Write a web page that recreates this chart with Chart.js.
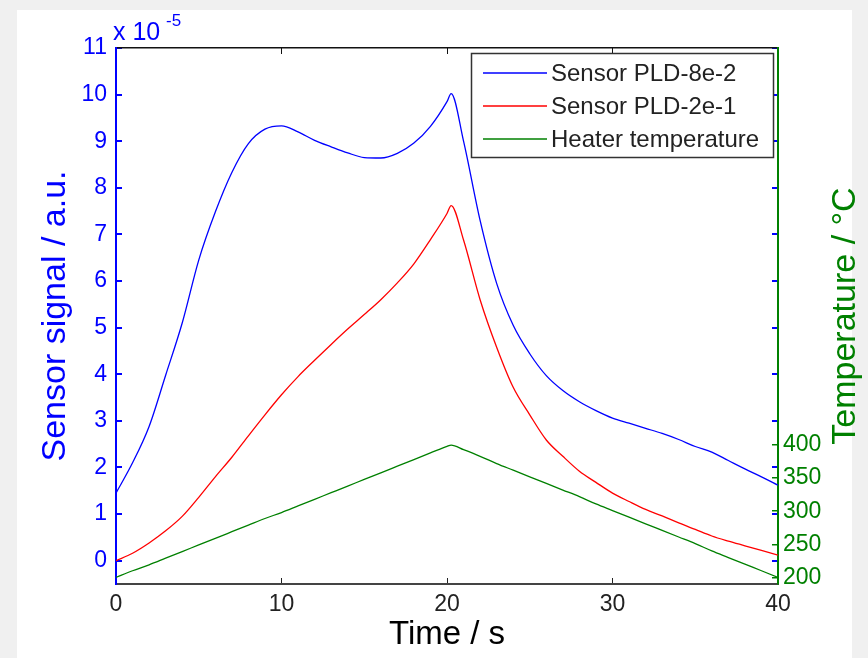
<!DOCTYPE html>
<html>
<head>
<meta charset="utf-8">
<title>Sensor signal vs heater temperature</title>
<script src="https://cdn.jsdelivr.net/npm/chart.js@4.4.1/dist/chart.umd.min.js"></script>
<style>
  html, body { margin: 0; padding: 0; background: #f0f0f0; }
  canvas { display: block; }
</style>
</head>
<body>
<canvas id="chart" width="868" height="658"></canvas>
<script>
// --- Données ---
const TIME = [0, 1, 2, 3, 4, 5, 6, 7, 8, 9, 10, 11, 12, 13, 14, 15, 16, 17, 18, 19, 20, 20.25,
              21, 22, 23, 24, 25, 26, 27, 28, 29, 30, 31, 32, 33, 34, 35, 36, 37, 38, 39, 40];

// signal capteur, en unités de 1e-5 a.u.
const SIGNAL_PLD_8E2 = [1.45, 2.1, 2.88, 3.98, 5.1, 6.45, 7.48, 8.33, 8.95, 9.26, 9.33, 9.2, 9.02, 8.88, 8.75, 8.65, 8.64, 8.74, 8.96, 9.32, 9.85, 10.02,
                        9.0, 7.3, 5.95, 5.05, 4.44, 3.97, 3.65, 3.41, 3.22, 3.06, 2.95, 2.84, 2.73, 2.6, 2.45, 2.33, 2.15, 1.97, 1.8, 1.62];
const SIGNAL_PLD_2E1 = [0.0, 0.16, 0.38, 0.64, 0.95, 1.36, 1.8, 2.22, 2.68, 3.13, 3.56, 3.95, 4.3, 4.64, 4.97, 5.28, 5.6, 5.96, 6.37, 6.89, 7.45, 7.62,
                        6.88, 5.6, 4.58, 3.72, 3.13, 2.59, 2.24, 1.92, 1.68, 1.45, 1.27, 1.1, 0.96, 0.81, 0.67, 0.53, 0.42, 0.32, 0.22, 0.12];
// température du chauffage (°C)
const HEATER_TEMP = [200, 210, 219, 229, 239, 249, 259, 269, 279, 289, 298, 308, 318, 328, 338, 348, 358, 368, 378, 388, 398, 400,
                     393, 383, 372, 362, 352, 342, 332, 322, 311, 301, 291, 281, 271, 261, 251, 240, 230, 220, 210, 200];

const X_TICKS = [0, 10, 20, 30, 40];
const SIGNAL_TICKS = [0, 1, 2, 3, 4, 5, 6, 7, 8, 9, 10, 11];
const TEMP_TICKS = [200, 250, 300, 350, 400];

const LABELS = ['Sensor PLD-8e-2', 'Sensor PLD-2e-1', 'Heater temperature'];

const BLUE = '#0000ff';
const RED = '#ff0000';
const GREEN = '#008000';
const FONT = "'Liberation Sans', Arial, sans-serif";

function toPoints(values) {
    return TIME.map((t, i) => ({ x: t, y: values[i] }));
}

function fixTicks(list) {
    return scale => { scale.ticks = list.map(v => ({ value: v })); };
}

// fond gris + panneau blanc
const backgroundPlugin = {
    id: 'background',
    beforeDraw(chart) {
        const ctx = chart.ctx;
        ctx.save();
        ctx.fillStyle = '#f0f0f0';
        ctx.fillRect(0, 0, chart.width, chart.height);
        ctx.fillStyle = '#ffffff';
        ctx.fillRect(17, 10, 835, 648);
        ctx.restore();
    }
};

// exposant, titre de droite et légende encadrée
const overlayPlugin = {
    id: 'overlay',
    afterDraw(chart) {
        const ctx = chart.ctx;
        const area = chart.chartArea;
        ctx.save();

        // x 10^-5
        ctx.fillStyle = BLUE;
        ctx.textBaseline = 'alphabetic';
        ctx.textAlign = 'left';
        ctx.font = '25px ' + FONT;
        ctx.fillText('x 10', area.left - 3, 40);
        ctx.font = '17px ' + FONT;
        ctx.fillText('-5', area.left + 50, 26);

        // titre axe droit (lu de bas en haut)
        ctx.translate(846, (area.top + area.bottom) / 2);
        ctx.rotate(-Math.PI / 2);
        ctx.fillStyle = GREEN;
        ctx.font = '34px ' + FONT;
        ctx.textAlign = 'center';
        ctx.textBaseline = 'middle';
        ctx.fillText('Temperature / °C', 0, 0);
        ctx.setTransform(1, 0, 0, 1, 0, 0);

        // légende
        const lx = 471, ly = 53, lw = 302, lh = 104;
        ctx.fillStyle = '#ffffff';
        ctx.fillRect(lx, ly, lw, lh);
        ctx.strokeStyle = '#333333';
        ctx.lineWidth = 1.5;
        ctx.strokeRect(lx + 0.5, ly + 0.5, lw, lh);
        ctx.font = '24px ' + FONT;
        ctx.textAlign = 'left';
        ctx.textBaseline = 'middle';
        chart.data.datasets.forEach((ds, i) => {
            const y = ly + 20 + i * 33;
            ctx.strokeStyle = ds.borderColor;
            ctx.lineWidth = 1.3;
            ctx.beginPath();
            ctx.moveTo(483, y);
            ctx.lineTo(547, y);
            ctx.stroke();
            ctx.fillStyle = '#222222';
            ctx.fillText(ds.label, 551, y + 1);
        });
        ctx.restore();
    }
};

const ctx = document.getElementById('chart').getContext('2d');
new Chart(ctx, {
    type: 'line',
    data: {
        datasets: [
            { label: LABELS[0], data: toPoints(SIGNAL_PLD_8E2), borderColor: BLUE, yAxisID: 'y' },
            { label: LABELS[1], data: toPoints(SIGNAL_PLD_2E1), borderColor: RED, yAxisID: 'y' },
            { label: LABELS[2], data: toPoints(HEATER_TEMP), borderColor: GREEN, yAxisID: 'y2' }
        ]
    },
    options: {
        responsive: false,
        animation: false,
        devicePixelRatio: 1,
        layout: { padding: 0 },
        elements: {
            point: { radius: 0 },
            line: { borderWidth: 1.3, cubicInterpolationMode: 'monotone', fill: false }
        },
        plugins: {
            legend: { display: false },
            tooltip: { enabled: false }
        },
        scales: {
            x: {
                type: 'linear',
                position: 'bottom',
                min: 0,
                max: 40,
                afterBuildTicks: fixTicks(X_TICKS),
                afterFit: s => { s.height = 74; },
                border: { color: '#444444', width: 2 },
                grid: { drawOnChartArea: false, tickLength: -6, color: '#222222' },
                ticks: { color: '#222222', padding: 13, font: { family: FONT, size: 23 } },
                title: {
                    display: true,
                    text: 'Time / s',
                    color: '#000000',
                    font: { family: FONT, size: 33, lineHeight: 1.2 },
                    padding: { top: 0, bottom: 3 }
                }
            },
            xTop: {
                type: 'linear',
                position: 'top',
                min: 0,
                max: 40,
                afterBuildTicks: fixTicks(X_TICKS),
                afterFit: s => { s.height = 48; },
                border: { color: '#111111', width: 1.5 },
                grid: { drawOnChartArea: false, tickLength: -6, color: '#111111' },
                ticks: { display: false }
            },
            y: {
                type: 'linear',
                position: 'left',
                min: -0.5,
                max: 11,
                afterBuildTicks: fixTicks(SIGNAL_TICKS),
                afterFit: s => { s.width = 116; },
                border: { color: BLUE, width: 2 },
                grid: { drawOnChartArea: false, tickLength: -6, color: BLUE, lineWidth: 2 },
                ticks: { color: BLUE, padding: 15, font: { family: FONT, size: 23 } },
                title: {
                    display: true,
                    text: 'Sensor signal / a.u.',
                    color: BLUE,
                    font: { family: FONT, size: 34, lineHeight: 1.2 },
                    padding: { top: 35, bottom: 0 }
                }
            },
            yMirror: {
                type: 'linear',
                position: 'right',
                weight: 0,
                min: -0.5,
                max: 11,
                afterBuildTicks: fixTicks(SIGNAL_TICKS),
                afterFit: s => { s.width = 0; },
                border: { display: false },
                grid: { drawOnChartArea: false, tickLength: -6, color: BLUE, lineWidth: 2 },
                ticks: { display: false }
            },
            y2: {
                type: 'linear',
                position: 'right',
                weight: 1,
                min: 190,
                max: 1000,
                afterBuildTicks: fixTicks(TEMP_TICKS),
                afterFit: s => { s.width = 90; },
                border: { color: GREEN, width: 2 },
                grid: { drawOnChartArea: false, tickLength: -6, color: GREEN, lineWidth: 1.5 },
                ticks: { color: GREEN, padding: 11, font: { family: FONT, size: 23 } }
            }
        }
    },
    plugins: [backgroundPlugin, overlayPlugin]
});
</script>
</body>
</html>
